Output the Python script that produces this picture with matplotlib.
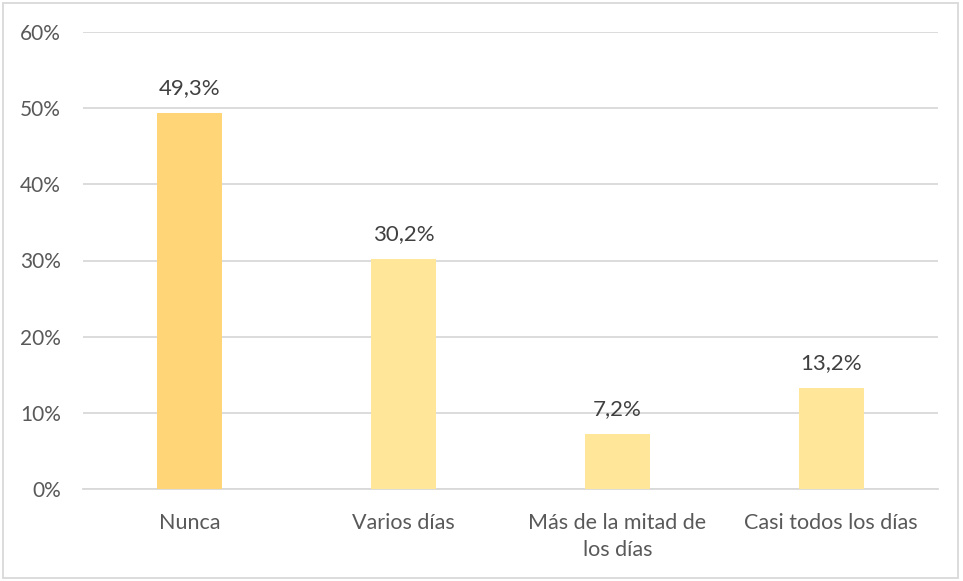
import matplotlib
matplotlib.use("Agg")
import matplotlib.pyplot as plt
from matplotlib.patches import Rectangle

# data
categories = ["Nunca", "Varios días", "Más de la mitad de\nlos días", "Casi todos los días"]
values = [49.3, 30.2, 7.2, 13.2]
labels = ["49,3%", "30,2%", "7,2%", "13,2%"]
bar_colors = ["#FFD578", "#FFE699", "#FFE699", "#FFE699"]
yticks = [0, 10, 20, 30, 40, 50, 60]

text_color = "#595959"
plt.rcParams['font.family'] = ['Lato', 'DejaVu Sans']

fig = plt.figure(figsize=(9.63, 5.81), dpi=100)
ax = fig.add_axes([83 / 963, 1 - 489 / 581, 855 / 963, 457 / 581])

x = range(len(categories))
ax.bar(x, values, width=0.305, color=bar_colors, zorder=3)

for i, v in enumerate(values):
    ax.text(i, v + 2.0, labels[i], ha="center", va="bottom", fontsize=16, color="#404040")

ax.set_xlim(-0.5, len(categories) - 0.5)
ax.set_ylim(0, 60)
ax.set_yticks(yticks)
ax.set_yticklabels([f"{t}%" for t in yticks], fontsize=15, color=text_color)
ax.set_xticks(list(x))
ax.set_xticklabels(categories, fontsize=15.5, color=text_color, linespacing=1.45, va="top")
ax.tick_params(axis="both", length=0)
ax.tick_params(axis="y", pad=16)
ax.tick_params(axis="x", pad=17)

ax.grid(axis="y", color="#D9D9D9", linewidth=1.3, zorder=0)
for s in ["top", "right", "left"]:
    ax.spines[s].set_visible(False)
ax.spines["bottom"].set_color("#D9D9D9")
ax.spines["bottom"].set_linewidth(1.3)

# outer chart border
fig.patches.append(Rectangle((3 / 963, 3 / 581), 955 / 963, 575 / 581, transform=fig.transFigure,
                             fill=False, edgecolor="#D9D9D9", linewidth=1.3))

fig.savefig("out.png", dpi=100)
